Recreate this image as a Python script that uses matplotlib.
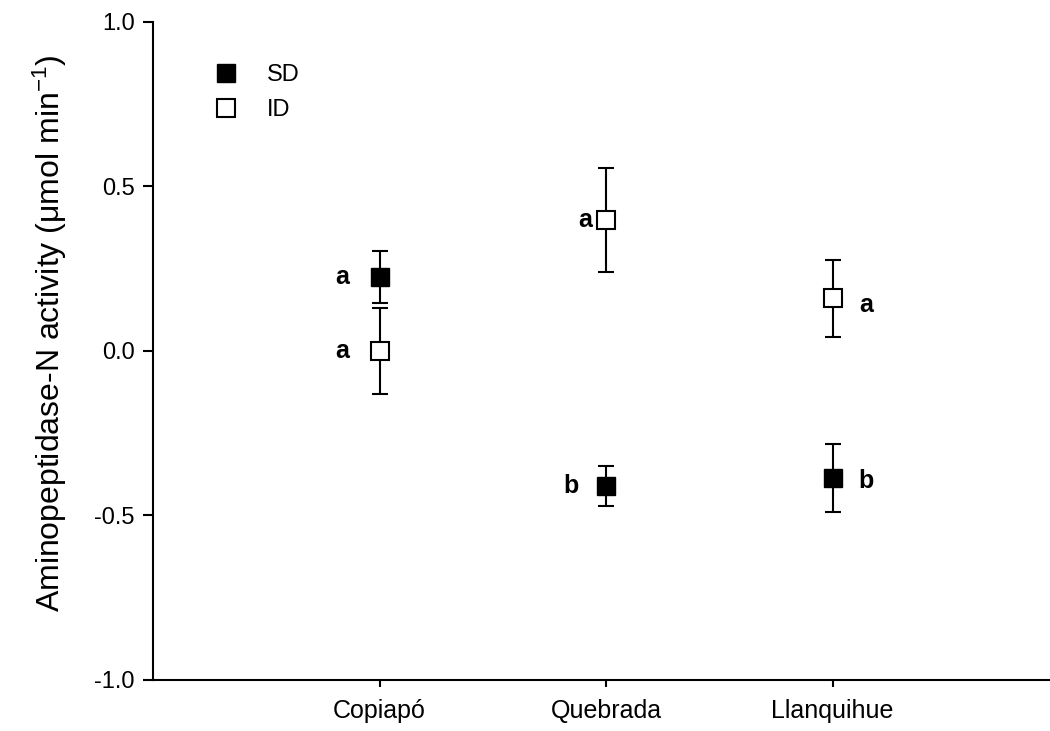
import matplotlib
matplotlib.use("Agg")
import matplotlib.pyplot as plt
from matplotlib.lines import Line2D

plt.rcParams['font.family'] = ['Liberation Sans', 'DejaVu Sans']
plt.rcParams['mathtext.default'] = 'regular'

sites = ["Copiapó", "Quebrada", "Llanquihue"]
sd_mean = [0.225, -0.41, -0.387]
sd_err = [0.078, 0.06, 0.103]
id_mean = [0.0, 0.398, 0.16]
id_err = [0.13, 0.157, 0.117]
sd_letters = ["a", "b", "b"]
id_letters = ["a", "a", "a"]

xs = [1, 2, 3]

fig = plt.figure(figsize=(10.5, 7.31), dpi=100)
ax = fig.add_axes([0.1457, 0.0698, 0.8543, 0.9002])

ax.errorbar(xs, sd_mean, yerr=sd_err, fmt='s', color='black', mfc='black',
            mec='black', ms=13, capsize=6, elinewidth=1.5, capthick=1.5, zorder=3)
ax.errorbar(xs, id_mean, yerr=id_err, fmt='s', color='black', mfc='white',
            mec='black', ms=13, mew=1.5, capsize=6, elinewidth=1.5, capthick=1.5, zorder=3)

# letter offsets (points) per site
sd_off = [(-27, 0), (-25, 0), (24, -2)]
id_off = [(-27, 0), (-15, 0), (24, -5)]
for i in range(3):
    ax.annotate(sd_letters[i], (xs[i], sd_mean[i]), xytext=sd_off[i],
                textcoords='offset points', ha='center', va='center', fontsize=18, fontweight='bold')
    ax.annotate(id_letters[i], (xs[i], id_mean[i]), xytext=id_off[i],
                textcoords='offset points', ha='center', va='center', fontsize=18, fontweight='bold')

ax.set_xlim(0, 3.96)
ax.set_ylim(-1.0, 1.0)
ax.set_yticks([-1.0, -0.5, 0.0, 0.5, 1.0])
ax.set_yticklabels(["-1.0", "-0.5", "0.0", "0.5", "1.0"])
ax.set_xticks(xs)
ax.set_xticklabels(sites)
ax.tick_params(axis='y', direction='out', length=7, width=1.5, labelsize=17, pad=6)
ax.tick_params(axis='x', direction='out', length=5, width=1.5, labelsize=18, pad=9)
for s in ['top', 'right']:
    ax.spines[s].set_visible(False)
for s in ['left', 'bottom']:
    ax.spines[s].set_linewidth(1.5)

ax.set_ylabel("Aminopeptidase-N activity (μmol min$^{-1}$)", fontsize=23)
ax.yaxis.set_label_coords(-0.094, 0.527)

handles = [Line2D([], [], ls='none', marker='s', ms=13, mfc='black', mec='black'),
           Line2D([], [], ls='none', marker='s', ms=13, mfc='white', mec='black', mew=1.5)]
ax.legend(handles, ["SD", "ID"], loc='upper left', bbox_to_anchor=(0.045, 0.968), frameon=False,
          fontsize=17, handlelength=1.0, handletextpad=1.2, labelspacing=0.55)

fig.savefig("out.png", dpi=100)
